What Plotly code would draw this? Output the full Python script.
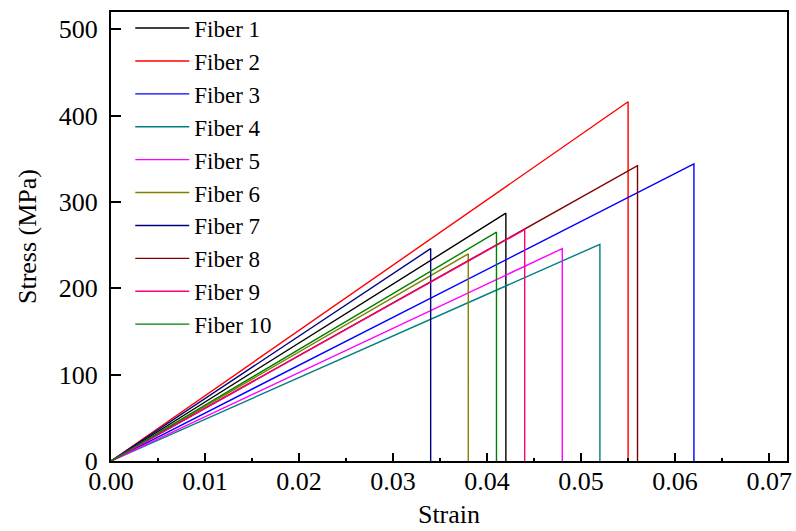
import plotly.graph_objects as go

# Data: failure strain and peak stress of each fiber
fibers = ["Fiber 1", "Fiber 2", "Fiber 3", "Fiber 4", "Fiber 5",
          "Fiber 6", "Fiber 7", "Fiber 8", "Fiber 9", "Fiber 10"]
failure_strain = [0.042, 0.055, 0.062, 0.052, 0.048, 0.038, 0.034, 0.056, 0.044, 0.041]
peak_stress = [287, 416, 344, 251, 246, 240, 246, 342, 268, 265]
colors = ["#000000", "#FF0000", "#0000FF", "#008080", "#FF00FF",
          "#808000", "#000080", "#800000", "#FF0080", "#008000"]

x_ticks = [0.00, 0.01, 0.02, 0.03, 0.04, 0.05, 0.06, 0.07]
x_tick_labels = ["0.00", "0.01", "0.02", "0.03", "0.04", "0.05", "0.06", "0.07"]
y_ticks = [0, 100, 200, 300, 400, 500]

FONT = "Liberation Serif, Times New Roman, serif"

fig = go.Figure()
for name, eps, sig, c in zip(fibers, failure_strain, peak_stress, colors):
    fig.add_trace(go.Scatter(
        x=[0, eps, eps], y=[0, sig, 0],
        mode="lines", name=name,
        line=dict(color=c, width=1.4),
    ))

fig.update_layout(
    width=796, height=531,
    margin=dict(l=111, r=9, t=7, b=70),
    paper_bgcolor="white", plot_bgcolor="white",
    font=dict(family=FONT, size=26, color="black"),
    showlegend=True,
    legend=dict(
        x=0.0285, xanchor="left",
        y=1.012, yanchor="top",
        maxheight=500,
        bgcolor="rgba(0,0,0,0)", borderwidth=0,
        font=dict(family=FONT, size=23, color="black"),
        itemwidth=54, tracegroupgap=0,
    ),
    xaxis=dict(
        range=[0, 0.0719], automargin=False,
        tickvals=x_ticks, ticktext=x_tick_labels,
        ticks="inside", ticklen=8, tickwidth=1.5, tickcolor="black",
        ticklabelstandoff=-4,
        minor=dict(dtick=0.005, ticks="inside", ticklen=3, tickwidth=1.5, tickcolor="black"),
        showline=True, linecolor="black", linewidth=2, mirror=True,
        showgrid=False, zeroline=False,
        tickfont=dict(family=FONT, size=26),
        title=dict(text="Strain", font=dict(family=FONT, size=26), standoff=10),
    ),
    yaxis=dict(
        range=[0, 520], automargin=False,
        tickvals=y_ticks,
        ticks="inside", ticklen=10, tickwidth=1.5, tickcolor="black",
        ticklabelstandoff=6,
        showline=True, linecolor="black", linewidth=2, mirror=True,
        showgrid=False, zeroline=False,
        tickfont=dict(family=FONT, size=26),
        title=dict(text="Stress (MPa)", font=dict(family=FONT, size=26), standoff=15),
    ),
    xaxis2=dict(
        overlaying="x", side="top", matches="x", automargin=False,
        showticklabels=False, showgrid=False, zeroline=False, showline=False,
        tickvals=x_ticks, ticks="inside", ticklen=3, tickwidth=1, tickcolor="black",
        minor=dict(dtick=0.005, ticks="inside", ticklen=2, tickwidth=1, tickcolor="black"),
    ),
    yaxis2=dict(
        overlaying="y", side="right", matches="y", automargin=False,
        showticklabels=False, showgrid=False, zeroline=False, showline=False,
        dtick=50, ticks="inside", ticklen=2, tickwidth=1, tickcolor="black",
    ),
)

fig.write_html(
    "out.html",
    config={"displayModeBar": False},
    post_script="document.body.style.margin='0';document.body.style.padding='0';",
)
